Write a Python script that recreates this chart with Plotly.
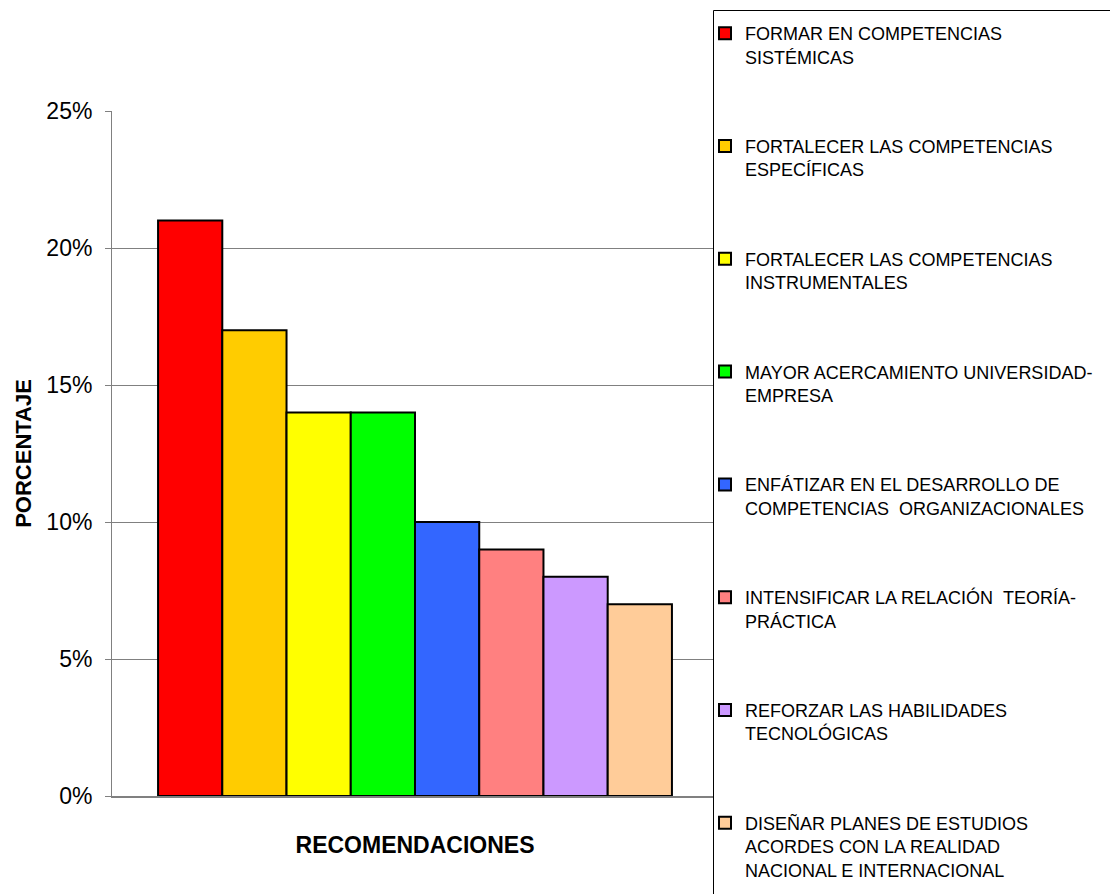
import plotly.graph_objects as go

categories = [
    "FORMAR EN COMPETENCIAS<br>SISTÉMICAS",
    "FORTALECER LAS COMPETENCIAS<br>ESPECÍFICAS",
    "FORTALECER LAS COMPETENCIAS<br>INSTRUMENTALES",
    "MAYOR ACERCAMIENTO UNIVERSIDAD-<br>EMPRESA",
    "ENFÁTIZAR EN EL DESARROLLO DE<br>COMPETENCIAS&nbsp;&nbsp;ORGANIZACIONALES",
    "INTENSIFICAR LA RELACIÓN&nbsp;&nbsp;TEORÍA-<br>PRÁCTICA",
    "REFORZAR LAS HABILIDADES<br>TECNOLÓGICAS",
    "DISEÑAR PLANES DE ESTUDIOS<br>ACORDES CON LA REALIDAD<br>NACIONAL E INTERNACIONAL",
]
values = [0.21, 0.17, 0.14, 0.14, 0.10, 0.09, 0.08, 0.07]
colors = ["#FF0000", "#FFCC00", "#FFFF00", "#00FF00", "#3366FF", "#FF8080", "#CC99FF", "#FFCC99"]
group = ["RECOMENDACIONES"]
y_ticks = [0, 0.05, 0.10, 0.15, 0.20, 0.25]

# page body has an 8px margin; work in screenshot pixels and shift
OFF = 8
W, H = 1118, 894
L, T = 112 - OFF, 111 - OFF
pw, ph = 606, 685
R = W - L - pw
B = H - T - ph

def px_x(p):
    return (p - OFF - L) / pw

def px_y(p):
    return (T + ph - (p - OFF)) / ph

fig = go.Figure()
for i, (name, v, c) in enumerate(zip(categories, values, colors)):
    fig.add_trace(go.Bar(
        x=group, y=[v], name=name,
        marker=dict(color=c, line=dict(color="#000000", width=2)),
        legendgroup=f"g{i}",
    ))

font_main = "Liberation Sans, Arial, sans-serif"

fig.update_layout(
    width=W, height=H,
    margin=dict(l=L, r=R, t=T, b=B, pad=0, autoexpand=False),
    paper_bgcolor="white", plot_bgcolor="white",
    barmode="group", bargap=0.152, bargroupgap=0,
    font=dict(family=font_main, color="black"),
    showlegend=True,
    legend=dict(
        x=px_x(705), y=px_y(15), xanchor="left", yanchor="top",
        font=dict(size=18, family=font_main, color="black"),
        bgcolor="rgba(0,0,0,0)", borderwidth=0,
        tracegroupgap=63, valign="top", traceorder="grouped",
        itemclick=False, maxheight=1200,
    ),
    shapes=[dict(
        type="rect", xref="paper", yref="paper",
        x0=px_x(713.5), x1=px_x(1130), y0=px_y(10.5), y1=px_y(910),
        line=dict(color="#000000", width=1), fillcolor="white", layer="above",
    )],
)

fig.update_xaxes(
    showticklabels=False, ticks="", showgrid=False,
    showline=True, linecolor="#808080", linewidth=2,
    range=[-0.5, 0.5],
    title=dict(text="<b>RECOMENDACIONES</b>", font=dict(size=23, family=font_main), standoff=40),
)
fig.update_yaxes(
    range=[0, 0.25], tickvals=y_ticks, tickformat=".0%",
    showgrid=True, gridcolor="#808080", gridwidth=1,
    showline=True, linecolor="#808080", linewidth=1,
    ticks="outside", ticklen=6, tickcolor="#808080",
    tickfont=dict(size=23, family=font_main, color="black"),
    ticklabelstandoff=8,
    zeroline=False,
    title=dict(text="<b>PORCENTAJE</b>", font=dict(size=22, family=font_main), standoff=8),
)

fig.write_html("out.html")
